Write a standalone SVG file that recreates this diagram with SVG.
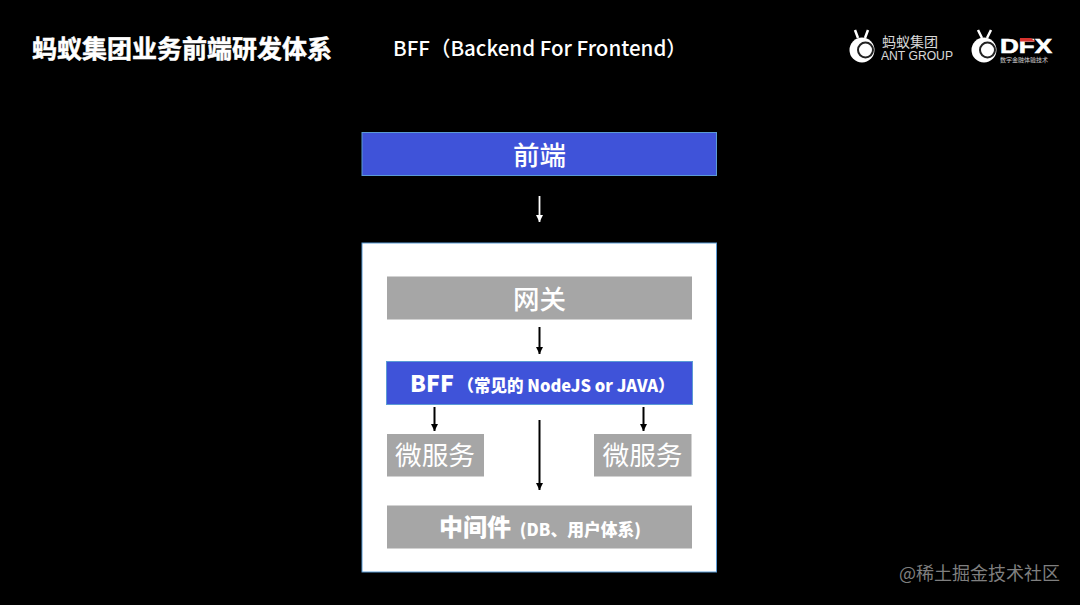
<svg xmlns="http://www.w3.org/2000/svg" width="1080" height="605" viewBox="0 0 1080 605">
<style>
text{font-family:"Noto Sans CJK SC","Noto Sans",sans-serif;fill:#fff;text-anchor:middle}
.s{text-anchor:start}
.lat{font-family:"Liberation Sans","Noto Sans CJK SC",sans-serif}
.b{fill:#3f53d9;stroke:#5b9bd5;stroke-width:1}
.g{fill:#a6a6a6}
.w{stroke:#fff;stroke-width:1.8;fill:none;marker-end:url(#aw)}
.k{stroke:#000;stroke-width:2;fill:none;marker-end:url(#ak)}
.ant{stroke:#fff;stroke-width:2.5;fill:none}
</style>
<defs>
<marker id="aw" markerUnits="userSpaceOnUse" markerWidth="8" markerHeight="7" refX="7" refY="3.500" orient="auto"><path d="M0 0L7 3.500L0 7Z" fill="#fff"/></marker>
<marker id="ak" markerUnits="userSpaceOnUse" markerWidth="8" markerHeight="7" refX="7" refY="3.500" orient="auto"><path d="M0 0L7 3.500L0 7Z" fill="#000"/></marker>
</defs>
<rect width="1080" height="605" fill="#000"/>
<text class="s" x="32" y="58" font-size="25" font-weight="700" style="stroke:#fff;stroke-width:.5">蚂蚁集团业务前端研发体系</text>
<text class="s" x="393" y="56" font-size="20.500" font-weight="500">BFF（Backend For Frontend）</text>
<g id="logo-ant">
<path class="ant" d="M855 30L858 38M868 30L865 38"/>
<circle cx="862" cy="50" r="12.500" fill="#fff"/><circle cx="865.500" cy="50" r="7.500" fill="#fff" stroke="#222" stroke-width="2"/>
<text class="s" x="882" y="47" font-size="14" style="opacity:.85">蚂蚁集团</text>
<text class="s lat" x="881" y="60" font-size="12.500" textLength="72" lengthAdjust="spacingAndGlyphs" style="opacity:.85">ANT GROUP</text>
</g>
<g id="logo-dfx">
<path class="ant" d="M978 30L982 38M991 30L987 38"/>
<circle cx="984" cy="50" r="12.500" fill="#fff"/><circle cx="987.500" cy="50" r="7.500" fill="#fff" stroke="#222" stroke-width="2"/>
<text class="s lat" x="1000" y="53" font-size="20" font-weight="700" textLength="52" lengthAdjust="spacingAndGlyphs" style="stroke:#fff;stroke-width:.6">DFX</text>
<path d="M1020 38h11l4 3.500h-15z" fill="#d9332e"/>
<text class="s" x="1000" y="62" font-size="6" style="opacity:.8">数字金融体验技术</text>
</g>
<g id="frontend"><rect class="b" x="362" y="132.500" width="354.500" height="43"/><text x="539.500" y="164.500" font-size="26.500" font-weight="500">前端</text></g>
<g id="container"><rect x="362" y="243" width="354.500" height="329" fill="#fff" stroke="#5b9bd5"/></g>
<g id="gateway"><rect class="g" x="387" y="276.500" width="305" height="43"/><text x="539.500" y="308.500" font-size="26.500" font-weight="500">网关</text></g>
<g id="bff"><rect class="b" x="386.500" y="361.500" width="306" height="43"/><text class="s" x="410" y="392" font-size="16.500" font-weight="900"><tspan font-size="23">BFF</tspan> （常见的 NodeJS or JAVA）</text></g>
<g id="ms-left"><rect class="g" x="387" y="434" width="97" height="42.500"/><text x="435" y="465" font-size="26.700">微服务</text></g>
<g id="ms-right"><rect class="g" x="594" y="434" width="97.500" height="42.500"/><text x="642.500" y="465" font-size="26.700">微服务</text></g>
<g id="middleware"><rect class="g" x="387" y="505.500" width="305" height="43"/><text class="s" x="439" y="536" font-size="16.800" font-weight="900"><tspan font-size="24">中间件</tspan><tspan dx="5"> (DB、用户体系)</tspan></text></g>
<g id="connectors">
<path class="w" d="M539.500 196V222"/>
<path class="k" d="M539.500 327V354"/>
<path class="k" d="M434.500 407V431"/>
<path class="k" d="M643.500 407V431"/>
<path class="k" d="M539.500 420V490"/>
</g>
<text class="s" x="899" y="580" font-size="18" style="fill:#7f7f7f">@稀土掘金技术社区</text>
</svg>
